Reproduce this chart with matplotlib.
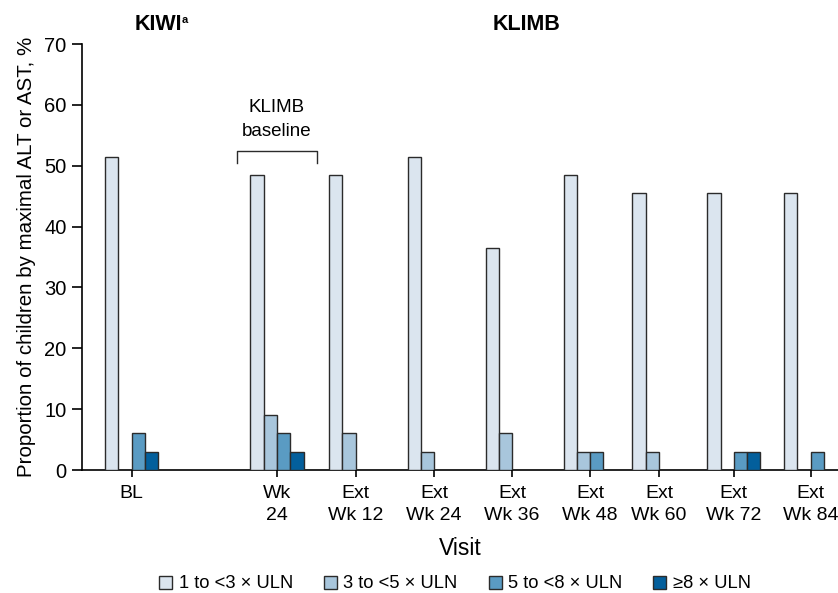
import matplotlib
matplotlib.use("Agg")
import matplotlib.pyplot as plt
import numpy as np

plt.rcParams['font.family'] = ['Liberation Sans', 'DejaVu Sans']

visits = ["BL", "Wk\n24", "Ext\nWk 12", "Ext\nWk 24", "Ext\nWk 36", "Ext\nWk 48", "Ext\nWk 60", "Ext\nWk 72", "Ext\nWk 84"]
group_pos = [0.0, 1.863, 2.872, 3.876, 4.876, 5.876, 6.76, 7.72, 8.705]
series_names = ["1 to <3 × ULN", "3 to <5 × ULN", "5 to <8 × ULN", "≥8 × ULN"]
s1 = [51.5, 48.5, 48.5, 51.5, 36.4, 48.5, 45.5, 45.5, 45.5]
s2 = [0, 9.1, 6.1, 3.0, 6.1, 3.0, 3.0, 0, 0]
s3 = [6.1, 6.1, 0, 0, 0, 3.0, 0, 3.0, 3.0]
s4 = [3.0, 3.0, 0, 0, 0, 0, 0, 3.0, 0]
colors = ["#dbe5ef", "#a8c6dc", "#5a9bc3", "#035f9c"]
yticks = [0, 10, 20, 30, 40, 50, 60, 70]

fig = plt.figure(figsize=(8.38, 5.93), dpi=100)
ax = fig.add_axes([82/838, 123/593, (838-82)/838, (470-44)/593])

w = 0.17
x = np.array(group_pos)
offs = [-1.5, -0.5, 0.5, 1.5]
handles = []
for i, (vals, c, name) in enumerate(zip([s1, s2, s3, s4], colors, series_names)):
    vals = np.array(vals, dtype=float)
    mask = vals > 0
    b = ax.bar(x[mask] + offs[i]*w, vals[mask], width=w, color=c, edgecolor="#2b2b2b", linewidth=1.0, label=name, zorder=3)
    handles.append(b)

ax.set_xlim(-0.637, 9.055)
ax.set_ylim(0, 70)
ax.set_yticks(yticks)
ax.set_xticks(x)
ax.set_xticklabels(visits, fontsize=14, linespacing=1.4)
ax.tick_params(axis='y', labelsize=14.5, length=7, width=1.2, pad=4)
ax.tick_params(axis='x', length=5, width=1.2, pad=6)
for s in ["top", "right"]:
    ax.spines[s].set_visible(False)
ax.spines["left"].set_linewidth(1.2)
ax.spines["bottom"].set_linewidth(1.2)
ax.set_xlabel("Visit", fontsize=16.5, labelpad=9)
ax.set_ylabel("Proportion of children by maximal ALT or AST, %", fontsize=14.8, labelpad=6)

# bracket for KLIMB baseline
bx = group_pos[1]
ax.plot([bx-0.507, bx-0.507, bx+0.507, bx+0.507], [50.4, 52.5, 52.5, 50.4], color="#2b2b2b", lw=1.0, clip_on=False)
ax.text(bx, 54.2, "KLIMB\nbaseline", ha="center", va="bottom", fontsize=13.5, linespacing=1.55)

t = fig.text(135/838, 1-24/593, "KIWI", fontsize=15.5, fontweight="bold", ha="left", va="center")
fig.canvas.draw()
bb = t.get_window_extent()
fig.text((bb.x1 - 1)/838, 1-20/593, "a", fontsize=8, fontweight="bold", ha="left", va="center")
fig.text(527/838, 1-24/593, "KLIMB", fontsize=15.5, fontweight="bold", ha="center", va="center")

leg = fig.legend(handles=handles, labels=series_names, loc="center", bbox_to_anchor=(455/838, 1-584/593), ncol=4,
                 frameon=False, fontsize=13.2, handlelength=0.7, handleheight=0.7, handletextpad=0.35,
                 columnspacing=1.7)

fig.savefig("out.png", dpi=100)
